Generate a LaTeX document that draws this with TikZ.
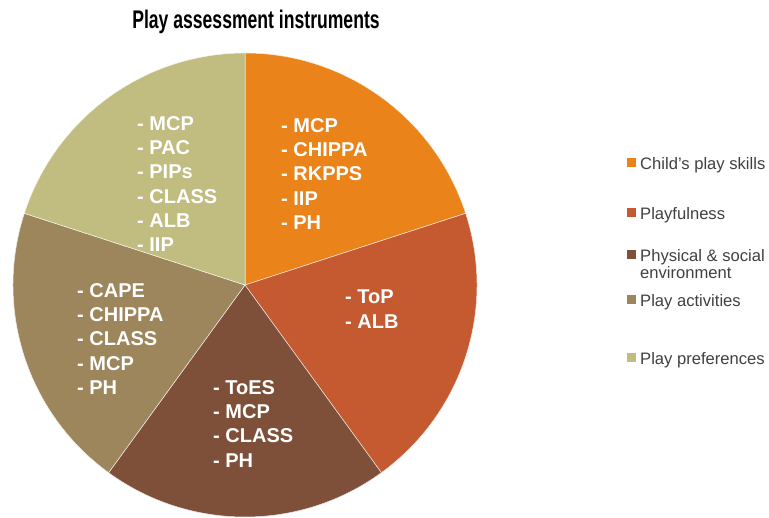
\documentclass[tikz,border=0pt]{standalone}
\usepackage{fontspec}
\setmainfont{Liberation Sans}
\usepackage{tikz}
\usetikzlibrary{positioning,calc}

\definecolor{skills}{HTML}{E9831A}
\definecolor{playful}{HTML}{C55A30}
\definecolor{environ}{HTML}{7F5039}
\definecolor{activ}{HTML}{9E865C}
\definecolor{prefs}{HTML}{C1BC80}
\definecolor{legfont}{HTML}{404040}

\begin{document}
\begin{tikzpicture}[x=1pt,y=1pt,
   slicetext/.style={text=white,align=left,inner sep=0pt,anchor=north west,
     font=\bfseries\fontsize{20}{24.3}\selectfont},
   legtext/.style={text=legfont,align=left,inner sep=0pt,anchor=north west,
     font=\fontsize{16.6}{17}\selectfont}]
  \useasboundingbox (0,0) rectangle (769,518);
  \coordinate (ctr) at (245,233);
  % the five slices, clockwise from the top
  \foreach \a/\c in {90/skills,18/playful,-54/environ,-126/activ,-198/prefs}
    \fill[\c,draw=white!85!\c,line width=0.5pt] (ctr) -- ++(\a:232)
      arc[start angle=\a,end angle=\a-72,radius=232] -- cycle;

  \node (title) [anchor=base,font=\bfseries\fontsize{25.5}{26}\selectfont]
    at (256,489) {\scalebox{0.69}[1]{Play assessment instruments}};

  \node (s1) [slicetext] at (281,400) {- MCP\\- CHIPPA\\- RKPPS\\- IIP\\- PH};
  \node (s2) [slicetext] at (345,228) {- ToP\\- ALB};
  \node (s3) [slicetext] at (213,138) {- ToES\\- MCP\\- CLASS\\- PH};
  \node (s4) [slicetext] at (77,235) {- CAPE\\- CHIPPA\\- CLASS\\- MCP\\- PH};
  \node (s5) [slicetext] at (137,402) {- MCP\\- PAC\\- PIPs\\- CLASS\\- ALB\\- IIP};

  % legend
  \node (l1) [legtext] at (640,360.8) {Child's play skills};
  \node (l2) [legtext] at (640,310.8) {Playfulness};
  \node (l3) [legtext] at (640,268.8) {Physical \& social\\environment};
  \node (l4) [legtext] at (640,223.8) {Play activities};
  \node (l5) [legtext] at (640,165.8) {Play preferences};
  \foreach \n/\c in {l1/skills,l2/playful,l3/environ,l4/activ,l5/prefs}
    \fill[\c] ($(\n.north west)+(-13,-1.3)$) rectangle ++(9,-9);
\end{tikzpicture}
\end{document}
